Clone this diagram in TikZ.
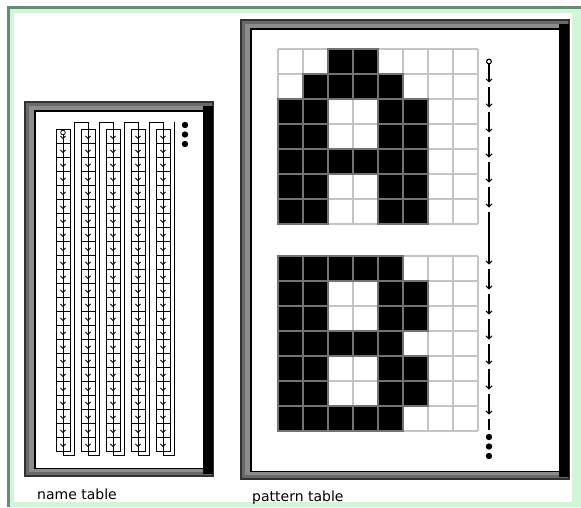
\documentclass[tikz,border=0pt]{standalone}
\usepackage{fontspec}
\setmainfont{DejaVu Sans}
\usetikzlibrary{arrows.meta}
\definecolor{framegreen}{RGB}{208,246,216}
\definecolor{frameedge}{RGB}{104,138,120}
\definecolor{gridgray}{RGB}{196,196,196}
\definecolor{panelgray}{RGB}{105,105,105}
\definecolor{panellight}{RGB}{140,140,140}
\definecolor{paneldark}{RGB}{50,50,50}
\begin{document}
\begin{tikzpicture}
  [x=1pt,y=-1pt,
   chain/.style={line width=1.1pt,-{Straight Barb[length=3pt,width=6pt,line width=.9pt]}},
   cellarrow/.style={line width=.8pt,-{Straight Barb[length=2.5pt,width=5pt,line width=.8pt]}},
   cell/.style={draw=black,line width=.8pt},
   label/.style={anchor=base west,inner sep=0pt,font=\fontsize{14}{16}\selectfont}]
  \useasboundingbox (0,0) rectangle (581,507);
  \fill[white] (0,0) rectangle (581,507);

  % window border
  \fill[framegreen] (7,6) rectangle (581,507);
  \fill[frameedge] (7,6) rectangle (9.5,507);
  \fill[frameedge] (7,6) rectangle (581,8.5);
  \fill[white] (14,13) rectangle (572,502);

  % the two panels
  \foreach \xa/\ya/\xb/\yb in {24/101/214/477, 240/19/570/480} {
    \fill[paneldark] (\xa,\ya) rectangle (\xb,\yb);
    \fill[panelgray] (\xa+2,\ya+2) rectangle (\xb-2,\yb-2);
    \fill[panellight] (\xa+5,\ya+5) rectangle (\xb-5,\yb-5);
    \fill[black] (\xb-11,\ya+5) rectangle (\xb-1,\yb-3);
    \fill[black] (\xa+10,\ya+9) rectangle (\xb-10,\yb-8);
    \fill[white] (\xa+12,\ya+11) rectangle (\xb-11,\yb-9);
  }

  % name table: five columns of 23 cells
  \foreach \k in {0,...,4} {
    \pgfmathsetmacro\cx{63+25*\k}
    \foreach \r in {0,...,22}
      \draw[cell] (\cx-7,129+14*\r) rectangle (\cx+7,143+14*\r);
    \draw[line width=.8pt] (\cx,129) -- (\cx,451);
    \foreach \r in {1,...,22}
      \draw[cellarrow] (\cx,129+14*\r) -- (\cx,139+14*\r);
  }
  \foreach \k in {1,...,4} {
    \pgfmathsetmacro\cx{63+25*\k}
    \draw[cellarrow] (\cx,129) -- (\cx,139);
  }
  \draw[line width=.8pt,fill=white] (63,132.5) circle (2.3);
  \draw[cellarrow] (63,135) -- (63,139);

  % links between the columns
  \foreach \k in {0,...,3} {
    \pgfmathsetmacro\cx{63+25*\k}
    \draw[line width=.8pt] (\cx,451) -- (\cx,455) -- (\cx+11.5,455)
      -- (\cx+11.5,122) -- (\cx+25,122) -- (\cx+25,129);
  }
  \draw[line width=.8pt] (163,451) -- (163,455) -- (174,455) -- (174,122);
  \foreach \y in {125,134.5,144}
    \fill (185,\y) circle (3.2);

  % pattern table: A and B
  \foreach \top/\rows in {49/{0/{2,3}, 1/{1,2,3,4}, 2/{0,1,4,5}, 3/{0,1,4,5},
                              4/{0,1,2,3,4,5}, 5/{0,1,4,5}, 6/{0,1,4,5}},
                         256/{0/{0,1,2,3,4}, 1/{0,1,4,5}, 2/{0,1,4,5}, 3/{0,1,2,3,4},
                              4/{0,1,4,5}, 5/{0,1,4,5}, 6/{0,1,2,3,4}}} {
    \foreach \i in {0,...,8}
      \draw[gridgray,line width=1.2pt] (278+25*\i,\top) -- (278+25*\i,\top+175);
    \foreach \j in {0,...,7}
      \draw[gridgray,line width=1.2pt] (278,\top+25*\j) -- (478,\top+25*\j);
    \foreach \r/\cols in \rows
      \foreach \c in \cols
        \filldraw[fill=black,draw=black!55,line width=1.2pt]
          (278+25*\c,\top+25*\r) rectangle ++(25,25);
  }

  % pattern chain
  \draw[line width=1.1pt,fill=white] (489,61.5) circle (2.4);
  \draw[chain] (489,64) -- (489,82.5);
  \foreach \r in {2,...,6}
    \draw[chain] (489,61.5+25*\r-25) -- (489,61.5+25*\r-4);
  \draw[chain] (489,211.5) -- (489,264.5);
  \foreach \r in {1,...,6}
    \draw[chain] (489,268.5+25*\r-25) -- (489,268.5+25*\r-4);
  \draw[line width=1.1pt] (489,418.5) -- (489,430);
  \foreach \y in {437,446.5,456}
    \fill (489,\y) circle (3.2);

  \node[label] (lname) at (37,499) {name table};
  \node[label] (lpattern) at (252,501) {pattern table};
\end{tikzpicture}
\end{document}
